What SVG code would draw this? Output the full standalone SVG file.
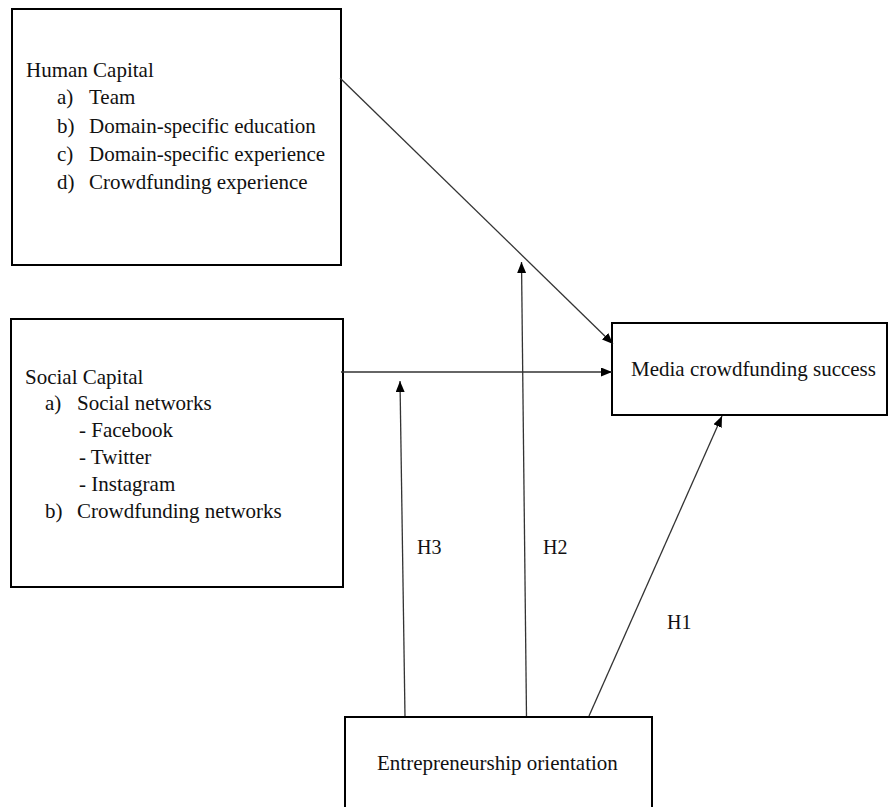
<svg xmlns="http://www.w3.org/2000/svg" width="889" height="807" viewBox="0 0 889 807">
<defs>
<style>
.box{fill:#fff;stroke:#000;stroke-width:2}
.t{font-family:"Liberation Serif","Times New Roman",serif;font-size:21px;fill:#111}
.lbl{font-family:"Liberation Serif","Times New Roman",serif;font-size:20px;fill:#111}
.c{stroke:#333;stroke-width:1.3;fill:none;marker-end:url(#ah)}
</style>
<marker id="ah" markerUnits="userSpaceOnUse" markerWidth="11" markerHeight="9" refX="11" refY="4.5" orient="auto">
<path d="M0,0 L11,4.5 L0,9 z" fill="#000"/>
</marker>
</defs>
<rect width="889" height="807" fill="#fff"/>
<g id="human-capital">
<rect class="box" x="12" y="9" width="329" height="256"/>
<text class="t" x="26" y="77">Human Capital</text>
<text class="t" x="57" y="104">a)</text><text class="t" x="89" y="104">Team</text>
<text class="t" x="57" y="133">b)</text><text class="t" x="89" y="133">Domain-specific education</text>
<text class="t" x="57" y="161">c)</text><text class="t" x="89" y="161">Domain-specific experience</text>
<text class="t" x="57" y="189">d)</text><text class="t" x="89" y="189">Crowdfunding experience</text>
</g>
<g id="social-capital">
<rect class="box" x="11" y="319" width="332" height="268"/>
<text class="t" x="25" y="384">Social Capital</text>
<text class="t" x="45" y="410">a)</text><text class="t" x="77" y="410">Social networks</text>
<text class="t" x="79" y="437">- Facebook</text>
<text class="t" x="79" y="464">- Twitter</text>
<text class="t" x="79" y="491">- Instagram</text>
<text class="t" x="45" y="518">b)</text><text class="t" x="77" y="518">Crowdfunding networks</text>
</g>
<g id="media-success">
<rect class="box" x="612" y="323" width="275" height="92"/>
<text class="t" x="631" y="376">Media crowdfunding success</text>
</g>
<g id="entrepreneurship">
<rect class="box" x="345" y="717" width="307" height="100"/>
<text class="t" x="377" y="770">Entrepreneurship orientation</text>
</g>
<g id="connectors">
<line class="c" x1="340" y1="78" x2="613" y2="344"/>
<line class="c" x1="341" y1="372" x2="612" y2="372"/>
<line class="c" x1="405" y1="716" x2="400" y2="381"/>
<line class="c" x1="526.5" y1="716" x2="521.5" y2="262"/>
<line class="c" x1="589" y1="716" x2="722" y2="416"/>
<text class="lbl" x="417" y="554">H3</text>
<text class="lbl" x="543" y="554">H2</text>
<text class="lbl" x="667" y="629">H1</text>
</g>
</svg>
